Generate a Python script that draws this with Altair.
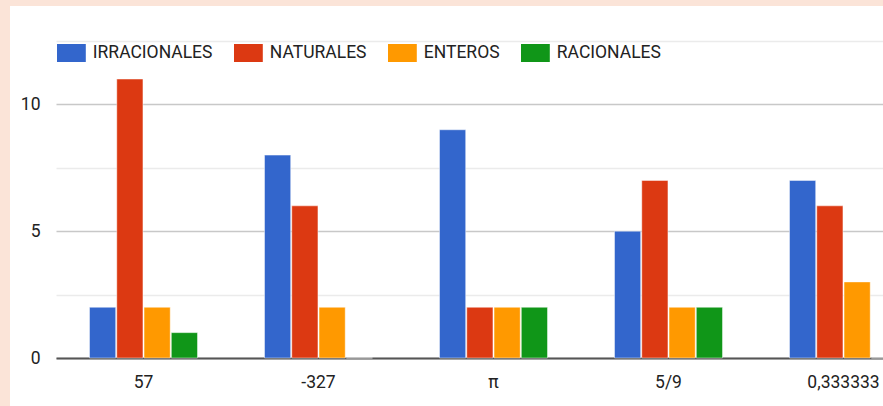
import altair as alt
import pandas as pd

categories = ["57", "-327", "π", "5/9", "0,333333"]
series = ["IRRACIONALES", "NATURALES", "ENTEROS", "RACIONALES"]
irracionales = [2, 8, 9, 5, 7]
naturales = [11, 6, 2, 7, 6]
enteros = [2, 2, 2, 2, 3]
racionales = [1, 0, 2, 2, 0]
colors = ["#3366cc", "#dc3912", "#ff9900", "#109618"]

rows = []
for name, vals in zip(series, [irracionales, naturales, enteros, racionales]):
    for c, v in zip(categories, vals):
        rows.append({"categoria": c, "serie": name, "valor": v})
df = pd.DataFrame(rows)

FONT = "Roboto"
FS = 17.5
W, H = 827, 317
PEACH = "#fbe4d8"

one = alt.Data(values=[{"k": 1}])
strip_left = alt.Chart(one).mark_rect(color=PEACH).encode(
    x=alt.value(-56), x2=alt.value(-46), y=alt.value(-41), y2=alt.value(H + 48))
strip_top = alt.Chart(one).mark_rect(color=PEACH).encode(
    x=alt.value(-56), x2=alt.value(W), y=alt.value(-41), y2=alt.value(-35))

bars = alt.Chart(df).mark_bar(stroke="white", strokeWidth=1, strokeOpacity=0.45).encode(
    x=alt.X("categoria:N", sort=categories,
            scale=alt.Scale(range=[0, 875], paddingInner=0.383, paddingOuter=0.1915),
            axis=alt.Axis(title=None, labelAngle=0, ticks=False, domainColor="#555555",
                          domainWidth=2, labelPadding=15, labelFont=FONT, labelFontSize=FS,
                          labelColor="#222222", grid=False)),
    xOffset=alt.XOffset("serie:N", sort=series, scale=alt.Scale(paddingInner=0.04)),
    y=alt.Y("valor:Q", scale=alt.Scale(domain=[0, 12.5], nice=False),
            axis=alt.Axis(title=None, values=[0, 2.5, 5, 7.5, 10, 12.5],
                          labelExpr="datum.value % 5 === 0 ? datum.label : ''",
                          gridColor={"condition": {"test": "datum.value % 5 === 0", "value": "#c8c8c8"},
                                     "value": "#ebebeb"},
                          gridWidth=1.5, domain=False, ticks=False, labelPadding=16,
                          labelFont=FONT, labelFontSize=FS, labelColor="#222222")),
    color=alt.Color("serie:N", sort=series, scale=alt.Scale(domain=series, range=colors),
                    legend=alt.Legend(title=None, orient="none", direction="horizontal",
                                      legendX=6.4, legendY=3,
                                      symbolType="M-1.6,-1H1.6V1H-1.6Z", symbolSize=324,
                                      symbolStrokeWidth=0, symbolOpacity=1,
                                      labelFont=FONT, labelFontSize=FS, labelColor="#222222",
                                      labelOffset=12.4, columnPadding=20, padding=0)),
)

chart = alt.layer(strip_left, strip_top, bars).properties(
    width=W, height=H,
    autosize=alt.AutoSizeParams(type="none"),
    padding={"left": 56, "top": 41, "right": 0, "bottom": 48},
    background="white",
).configure_view(stroke=None)

chart.save("out.html", embed_options={"renderer": "svg", "actions": False})
